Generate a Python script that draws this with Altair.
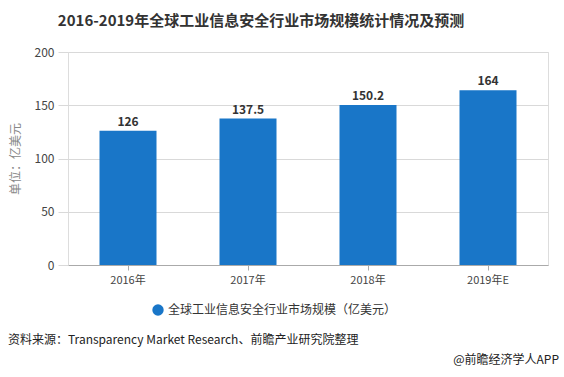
import altair as alt
import pandas as pd

years = ["2016年", "2017年", "2018年", "2019年E"]
values = [126, 137.5, 150.2, 164]
labels = ["126", "137.5", "150.2", "164"]
series = "全球工业信息安全行业市场规模（亿美元）"

df = pd.DataFrame({"year": years, "value": values, "label": labels, "series": [series] * 4})

FONT = "Noto Sans CJK SC"

base = alt.Chart(df)

bars = base.mark_bar(size=57).encode(
    x=alt.X("year:N", sort=years, title=None,
            scale=alt.Scale(paddingInner=0, paddingOuter=0),
            axis=alt.Axis(labelAngle=0, labelColor="#444", labelFontSize=11, labelFont=FONT,
                          tickColor="#aaa", tickSize=5, domainColor="#aaa", labelPadding=4)),
    y=alt.Y("value:Q", title="单位：亿美元",
            scale=alt.Scale(domain=[0, 200]),
            axis=alt.Axis(values=[0, 50, 100, 150, 200], labelColor="#444", labelFontSize=12,
                          labelFont=FONT, gridColor="#d9d9d9", domain=False, tickSize=10,
                          tickColor="#d9d9d9", labelPadding=4, titleColor="#888",
                          titleFontSize=12, titleFont=FONT, titleFontWeight="normal",
                          titlePadding=12)),
    color=alt.Color("series:N", scale=alt.Scale(range=["#1976C8"]),
                    legend=alt.Legend(title=None, orient="none", legendX=84, legendY=252,
                                      symbolType="circle", symbolSize=130, labelFontSize=12,
                                      labelFont=FONT, labelColor="#333", symbolStrokeWidth=0,
                                      labelLimit=400)),
)

text = base.mark_text(dy=-9, fontWeight="bold", fontSize=12, color="#333", font=FONT).encode(
    x=alt.X("year:N", sort=years),
    y="value:Q",
    text="label:N",
)

ttl = alt.Chart(pd.DataFrame({"t": ["2016-2019年全球工业信息安全行业市场规模统计情况及预测"]})).mark_text(
    align="center", baseline="middle", fontSize=15, fontWeight="bold", color="#333", font=FONT
).encode(x=alt.value(193), y=alt.value(-31), text="t:N")

src = alt.Chart(pd.DataFrame({"t": ["资料来源：Transparency Market Research、前瞻产业研究院整理"]})).mark_text(
    align="left", baseline="middle", fontSize=12, color="#222", font=FONT
).encode(x=alt.value(-60), y=alt.value(288), text="t:N")

app = alt.Chart(pd.DataFrame({"t": ["@前瞻经济学人APP"]})).mark_text(
    align="right", baseline="middle", fontSize=12, color="#222", font=FONT
).encode(x=alt.value(491), y=alt.value(308), text="t:N")

chart = alt.layer(bars, text, ttl, src, app).properties(
    width=480, height=213,
    autosize=alt.AutoSizeParams(type="none"),
    padding={"left": 68, "top": 52, "right": 16, "bottom": 112},
).configure_view(stroke=None).configure(background="white")

chart.save("out.html", embed_options={"renderer": "svg", "actions": False})
